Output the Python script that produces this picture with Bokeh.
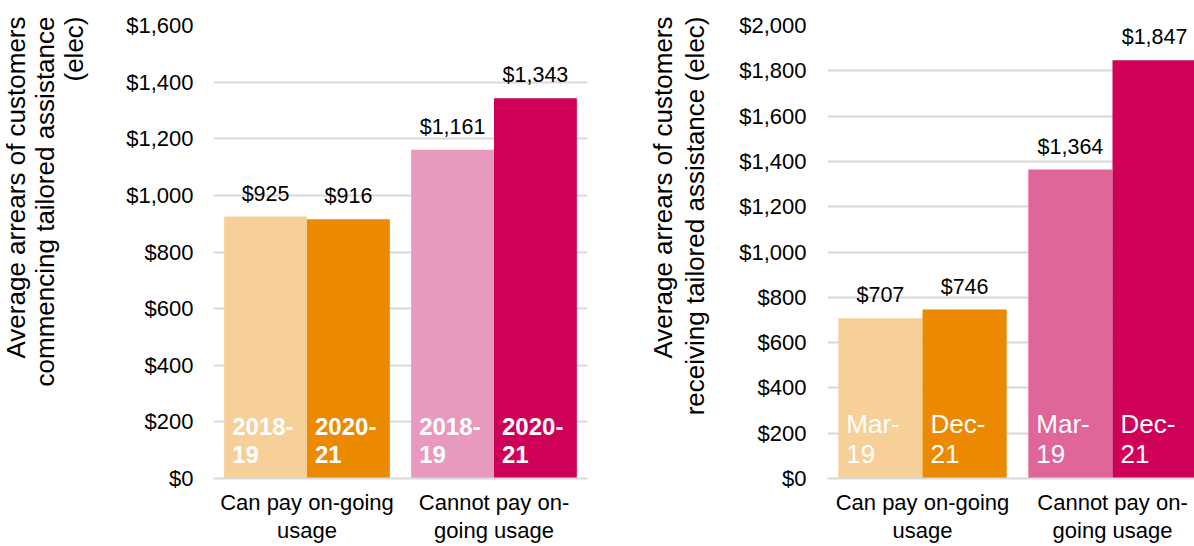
from bokeh.plotting import figure
from bokeh.layouts import row
from bokeh.models import ColumnDataSource, FixedTicker, NumeralTickFormatter, Range1d, Title
from bokeh.core.properties import value
from bokeh.embed import file_html
from bokeh.resources import INLINE

# ---- data ----
categories = ["Can pay on-going\nusage", "Cannot pay on-\ngoing usage"]

left_title_lines = ["Average arrears of customers", "commencing tailored assistance", "(elec)"]
left_periods = ["2018-\n19", "2020-\n21"]
left_can_pay = [925, 916]
left_cannot_pay = [1161, 1343]
left_colors = ["#F6CF99", "#EB8A00", "#E899BE", "#CF0058"]
left_ticks = [0, 200, 400, 600, 800, 1000, 1200, 1400, 1600]

right_title_lines = ["Average arrears of customers", "receiving tailored assistance (elec)"]
right_periods = ["Mar-\n19", "Dec-\n21"]
right_can_pay = [707, 746]
right_cannot_pay = [1364, 1847]
right_colors = ["#F6CF99", "#EB8A00", "#E06599", "#CF0058"]
right_ticks = [0, 200, 400, 600, 800, 1000, 1200, 1400, 1600, 1800, 2000]

FONT = "Liberation Sans"
BAR_W = 0.443


def make_panel(width, min_left, min_right, x_end, ticks, periods, can_vals, cannot_vals,
               colors, title_lines, spacer_gap, line_standoff, tick_standoff, bold,
               in_size, in_lh):
    p = figure(width=width, height=546, output_backend="svg", toolbar_location=None,
               x_range=Range1d(0, x_end), y_range=Range1d(0, ticks[-1]),
               min_border_left=min_left, min_border_right=min_right,
               min_border_top=25, min_border_bottom=66)
    p.outline_line_color = None
    p.background_fill_color = "white"
    p.border_fill_color = "white"

    xs = []
    for i in range(len(categories)):
        xs.append(i + 0.5 - BAR_W / 2)
        xs.append(i + 0.5 + BAR_W / 2)
    tops = list(can_vals) + list(cannot_vals)
    labels = ["${:,}".format(v) for v in tops]
    period_labels = periods + periods
    src = ColumnDataSource(dict(x=xs, top=tops, color=colors, lab=labels,
                                per=period_labels,
                                left=[x - BAR_W / 2 for x in xs],
                                zero=[0] * len(xs)))
    p.vbar(x="x", top="top", width=BAR_W, fill_color="color", line_color=None, source=src)

    p.text(x="x", y="top", text="lab", source=src, text_align="center",
           text_baseline="alphabetic", y_offset=-23, text_font=value(FONT),
           text_font_size="21.5px", text_color="#000000")
    p.text(x="left", y="zero", text="per", source=src, text_align="left",
           text_baseline="bottom", x_offset=8, y_offset=-10, text_font=value(FONT),
           text_font_size=in_size, text_color="white",
           text_font_style="bold" if bold else "normal", text_line_height=in_lh)

    # y axis
    ya = p.yaxis[0]
    ya.ticker = FixedTicker(ticks=ticks)
    ya.formatter = NumeralTickFormatter(format="$0,0")
    ya.axis_line_color = None
    ya.major_tick_line_color = None
    ya.minor_tick_line_color = None
    ya.major_tick_out = 0
    ya.major_tick_in = 0
    ya.major_label_standoff = tick_standoff
    ya.major_label_text_font = FONT
    ya.major_label_text_font_size = "22px"
    ya.major_label_text_color = "#000000"

    # y-axis title: spacer, then one Title per line stacked outward, end-aligned at top
    p.add_layout(Title(text=" ", text_font_size="1px", standoff=spacer_gap), "left")
    for line in reversed(title_lines):
        p.add_layout(Title(text=line, align="right", offset=-9, text_font=FONT,
                           text_font_size="26px", text_font_style="normal",
                           text_color="#000000", standoff=line_standoff), "left")

    # x axis with multi-line category labels
    xa = p.xaxis[0]
    xa.ticker = FixedTicker(ticks=[0.5, 1.5])
    xa.major_label_overrides = {0.5: categories[0], 1.5: categories[1]}
    xa.axis_line_color = "#D9D9D9"
    xa.axis_line_width = 2
    xa.major_tick_line_color = None
    xa.minor_tick_line_color = None
    xa.major_tick_out = 0
    xa.major_tick_in = 0
    xa.major_label_standoff = 11
    xa.major_label_text_font = FONT
    xa.major_label_text_font_size = "22px"
    xa.major_label_text_color = "#000000"
    xa.major_label_text_line_height = 1.15

    p.xgrid.grid_line_color = None
    p.ygrid.ticker = FixedTicker(ticks=ticks)
    p.ygrid.grid_line_color = "#D9D9D9"
    p.ygrid.grid_line_width = 2
    return p


left = make_panel(600, 212, 13, 2.0, left_ticks, left_periods, left_can_pay, left_cannot_pay,
                  left_colors, left_title_lines, 33, -3, 20, True, "24px", 1.05)
right = make_panel(594, 227, 0, 367 / 190, right_ticks, right_periods, right_can_pay,
                   right_cannot_pay, right_colors, right_title_lines, 24, 0, 21, False,
                   "26px", 1.0)

layout = row(left, right, spacing=0)
open("out.html", "w").write(file_html(layout, INLINE))
